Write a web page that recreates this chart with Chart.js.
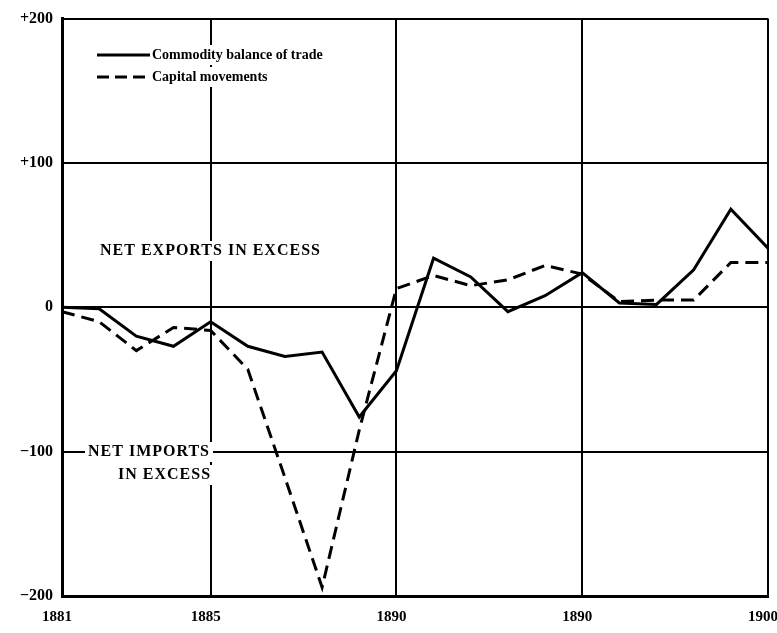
<!DOCTYPE html>
<html>
<head>
<meta charset="utf-8">
<script src="https://cdn.jsdelivr.net/npm/chart.js@4"></script>
<style>
  html, body { margin: 0; padding: 0; background: #fff; }
  #wrap { width: 777px; height: 633px; }
</style>
</head>
<body>
<div id="wrap"><canvas id="myChart" width="777" height="633"></canvas></div>
<script>
// years on the x axis
var years = [1881, 1882, 1883, 1884, 1885, 1886, 1887, 1888, 1889, 1890,
             1891, 1892, 1893, 1894, 1895, 1896, 1897, 1898, 1899, 1900];
// commodity balance of trade (solid)
var commodity_balance = [0, -1, -20, -27, -10, -27, -34, -31, -76, -44,
                         34, 21, -3, 8, 24, 3, 2, 26, 68, 41];
// capital movements (dashed)
var capital_movements = [-3, -10, -30, -14, -16, -43, -118, -194, -85, 13,
                         22, 15, 19, 29, 23, 4, 5, 5, 31, 31];

var xTickYears = [1881, 1885, 1890, 1895, 1900];
var xTickLabels = ["1881", "1885", "1890", "1890", "1900"];
var yTickValues = [-200, -100, 0, 100, 200];
var yTickLabels = ["\u2212200", "\u2212100", "0", "+100", "+200"];

var serif = "'Liberation Serif', 'DejaVu Serif', serif";

function toPoints(vals) {
  return years.map(function (y, i) { return { x: y, y: vals[i] }; });
}

// legend + the two notes, drawn on white patches over the grid
var notes = {
  id: "notes",
  afterDraw: function (chart) {
    var ctx = chart.ctx;
    ctx.save();
    ctx.textBaseline = "middle";

    function label(text, x, y, font, spacing) {
      ctx.font = font;
      ctx.letterSpacing = (spacing || 0) + "px";
      var w = ctx.measureText(text).width;
      ctx.fillStyle = "#fff";
      ctx.fillRect(x - 3, y - 10, w + 6, 20);
      ctx.fillStyle = "#000";
      ctx.fillText(text, x, y);
      ctx.letterSpacing = "0px";
    }

    // legend
    var lf = "bold 14px " + serif;
    label("Commodity balance of trade", 152, 55, lf, 0);
    label("Capital movements", 152, 77, lf, 0);
    ctx.strokeStyle = "#000";
    ctx.lineWidth = 3;
    ctx.beginPath();
    ctx.moveTo(97, 55); ctx.lineTo(150, 55);
    ctx.stroke();
    ctx.setLineDash([12, 6]);
    ctx.beginPath();
    ctx.moveTo(97, 77); ctx.lineTo(150, 77);
    ctx.stroke();
    ctx.setLineDash([]);

    var nf = "bold 16px " + serif;
    label("NET EXPORTS IN EXCESS", 100, 251, nf, 1);
    label("NET IMPORTS", 88, 452, nf, 1);
    label("IN EXCESS", 118, 475, nf, 1);
    ctx.restore();
  }
};

new Chart("myChart", {
  type: "line",
  data: {
    datasets: [
      {
        label: "Commodity balance of trade",
        data: toPoints(commodity_balance),
        borderColor: "#000",
        borderWidth: 3,
        pointRadius: 0,
        tension: 0,
        fill: false,
      },
      {
        label: "Capital movements",
        data: toPoints(capital_movements),
        borderColor: "#000",
        borderWidth: 3,
        borderDash: [13, 7],
        pointRadius: 0,
        tension: 0,
        fill: false,
      },
    ],
  },
  options: {
    responsive: false,
    animation: false,
    layout: { padding: { top: 14, right: 9, left: 0, bottom: 0 } },
    plugins: {
      legend: { display: false },
      tooltip: { enabled: false },
    },
    scales: {
      x: {
        type: "linear",
        min: 1881,
        max: 1900,
        afterBuildTicks: function (scale) {
          scale.ticks = xTickYears.map(function (v) { return { value: v }; });
        },
        afterFit: function (scale) {
          scale.height = 37;
          scale.paddingLeft = 0;
          scale.paddingRight = 0;
        },
        grid: { color: "#000", lineWidth: 2, drawTicks: false },
        border: { color: "#000", width: 3 },
        ticks: {
          color: "#000",
          maxRotation: 0,
          autoSkip: false,
          padding: 12,
          labelOffset: -5,
          font: { family: serif, size: 15, weight: "bold" },
          callback: function (v) {
            var i = xTickYears.indexOf(v);
            return i >= 0 ? xTickLabels[i] : "";
          },
        },
      },
      y: {
        min: -200,
        max: 200,
        afterBuildTicks: function (scale) {
          scale.ticks = yTickValues.map(function (v) { return { value: v }; });
        },
        afterFit: function (scale) {
          scale.width = 62;
        },
        grid: { color: "#000", lineWidth: 2, drawTicks: false },
        border: { color: "#000", width: 3 },
        ticks: {
          color: "#000",
          padding: 9,
          font: { family: serif, size: 16, weight: "bold" },
          callback: function (v) {
            var i = yTickValues.indexOf(v);
            return i >= 0 ? yTickLabels[i] : "";
          },
        },
      },
    },
  },
  plugins: [notes],
});
</script>
</body>
</html>
